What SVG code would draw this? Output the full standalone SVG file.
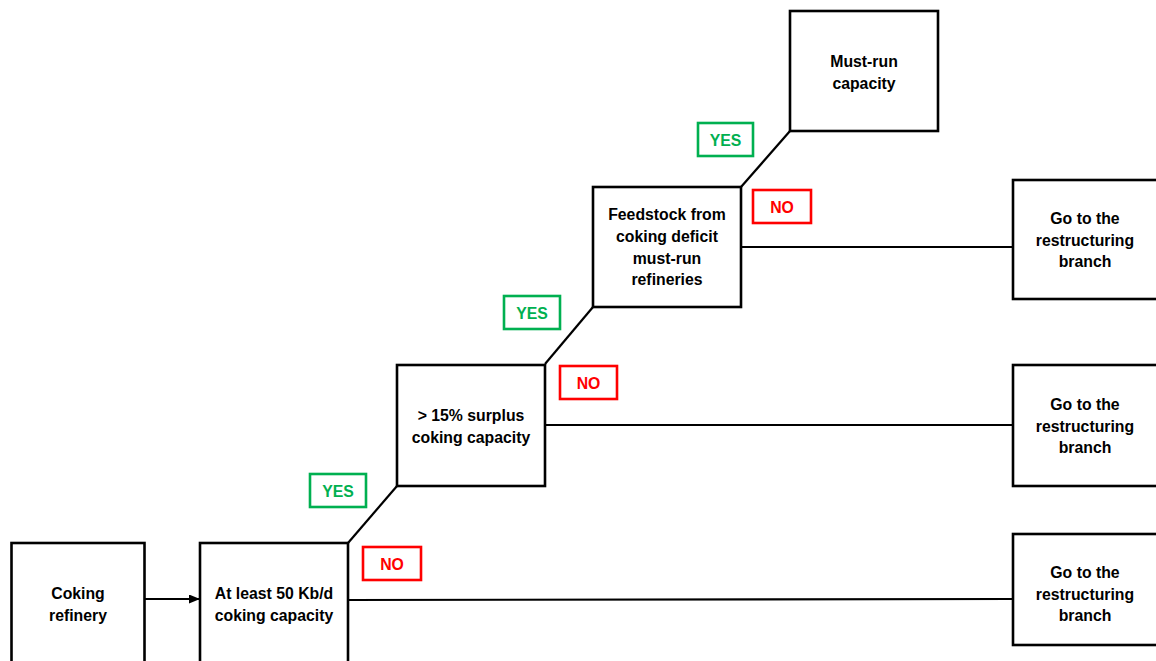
<svg xmlns="http://www.w3.org/2000/svg" width="1156" height="661" viewBox="0 0 1156 661">
<defs>
<style>
.box{fill:#fff;stroke:#000;stroke-width:2.6}
.t{font-family:"Liberation Sans",Arial,sans-serif;font-weight:bold;font-size:15.8px;fill:#000;text-anchor:middle}
.con{fill:none;stroke:#000;stroke-width:2.2}
.yes{fill:#fff;stroke:#00B050;stroke-width:2.6}
.no{fill:#fff;stroke:#FF0000;stroke-width:2.6}
.yt{font-family:"Liberation Sans",Arial,sans-serif;font-weight:bold;font-size:15.8px;fill:#00B050;text-anchor:middle}
.nt{font-family:"Liberation Sans",Arial,sans-serif;font-weight:bold;font-size:15.8px;fill:#FF0000;text-anchor:middle}
</style>
<marker id="arr" markerWidth="11" markerHeight="9" refX="10" refY="4.5" orient="auto" markerUnits="userSpaceOnUse">
<path d="M0,0 L11,4.5 L0,9 Z" fill="#000"/>
</marker>
</defs>
<rect width="1156" height="661" fill="#fff"/>
<g id="connectors">
<line class="con" x1="145" y1="599" x2="199" y2="599" marker-end="url(#arr)"/>
<line class="con" x1="348" y1="600" x2="1012" y2="599"/>
<line class="con" x1="545" y1="425" x2="1012" y2="425"/>
<line class="con" x1="741" y1="247" x2="1012" y2="247"/>
<line class="con" x1="348" y1="543" x2="397" y2="486"/>
<line class="con" x1="545" y1="364" x2="593" y2="307"/>
<line class="con" x1="741" y1="187" x2="790" y2="131"/>
</g>
<g id="n-coking">
<rect class="box" x="11.5" y="543" width="133" height="130"/>
<text class="t" x="78" y="599">Coking</text>
<text class="t" x="78" y="621">refinery</text>
</g>
<g id="n-50kbd">
<rect class="box" x="200" y="543" width="148" height="130"/>
<text class="t" x="274" y="599">At least 50 Kb/d</text>
<text class="t" x="274" y="621">coking capacity</text>
</g>
<g id="n-surplus">
<rect class="box" x="397" y="365" width="148" height="121"/>
<text class="t" x="471" y="421">&gt; 15% surplus</text>
<text class="t" x="471" y="443">coking capacity</text>
</g>
<g id="n-feedstock">
<rect class="box" x="593" y="187" width="148" height="120"/>
<text class="t" x="667" y="220">Feedstock from</text>
<text class="t" x="667" y="242">coking deficit</text>
<text class="t" x="667" y="264">must-run</text>
<text class="t" x="667" y="285">refineries</text>
</g>
<g id="n-mustrun">
<rect class="box" x="790" y="11" width="148" height="120"/>
<text class="t" x="864" y="67">Must-run</text>
<text class="t" x="864" y="89">capacity</text>
</g>
<g id="n-restr1">
<rect class="box" x="1013" y="180" width="160" height="119"/>
<text class="t" x="1085" y="224">Go to the</text>
<text class="t" x="1085" y="246">restructuring</text>
<text class="t" x="1085" y="267">branch</text>
</g>
<g id="n-restr2">
<rect class="box" x="1013" y="365" width="160" height="121"/>
<text class="t" x="1085" y="410">Go to the</text>
<text class="t" x="1085" y="432">restructuring</text>
<text class="t" x="1085" y="453">branch</text>
</g>
<g id="n-restr3">
<rect class="box" x="1013" y="534" width="160" height="111"/>
<text class="t" x="1085" y="578">Go to the</text>
<text class="t" x="1085" y="600">restructuring</text>
<text class="t" x="1085" y="621">branch</text>
</g>
<g id="l-yes1">
<rect class="yes" x="310" y="474" width="56" height="33"/>
<text class="yt" x="338" y="496.5">YES</text>
</g>
<g id="l-no1">
<rect class="no" x="363" y="547" width="58" height="33"/>
<text class="nt" x="392" y="569.5">NO</text>
</g>
<g id="l-yes2">
<rect class="yes" x="504" y="296" width="56" height="33"/>
<text class="yt" x="532" y="318.5">YES</text>
</g>
<g id="l-no2">
<rect class="no" x="560" y="366" width="57" height="33"/>
<text class="nt" x="588.5" y="388.5">NO</text>
</g>
<g id="l-yes3">
<rect class="yes" x="698" y="123" width="55" height="33"/>
<text class="yt" x="725.5" y="145.5">YES</text>
</g>
<g id="l-no3">
<rect class="no" x="753" y="190" width="58" height="33"/>
<text class="nt" x="782" y="212.5">NO</text>
</g>
</svg>
